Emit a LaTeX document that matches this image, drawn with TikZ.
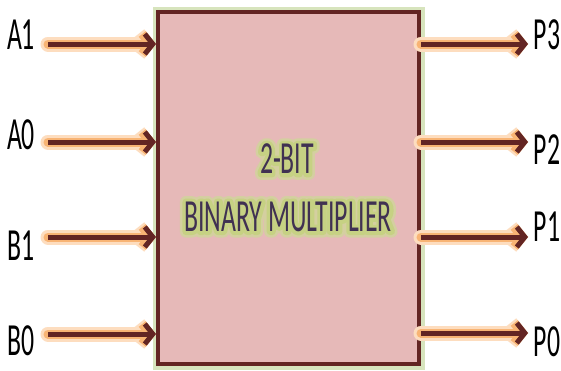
\documentclass[tikz,border=0pt]{standalone}
\usepackage{fontspec}
\usepackage{tikz}
\usetikzlibrary{arrows.meta}
\newfontfamily\diagfont{Carlito}[FakeStretch=0.56]
\definecolor{boxfill}{HTML}{E6B9B8}
\definecolor{wire}{HTML}{632523}
\definecolor{wireglow}{HTML}{F8B474}
\definecolor{wirehaze}{HTML}{FDDDBF}
\definecolor{textcol}{HTML}{403152}
\definecolor{textglow}{HTML}{C6D183}
\definecolor{texthaze}{HTML}{D4CFA0}
\definecolor{boxglow}{HTML}{D7E4BD}
% text with a soft outline behind it
\newcommand{\glowtext}[1]{%
  \rlap{\special{pdf:literal direct 1 Tr 12 w 1 j 1 J}\color{texthaze}#1\special{pdf:literal direct 0 Tr}}%
  \rlap{\special{pdf:literal direct 1 Tr 7 w 1 j 1 J}\color{textglow}#1\special{pdf:literal direct 0 Tr}}%
  \color{textcol}#1}
\tikzset{
  wirearrow/.style={wire, line width=5pt, -{Straight Barb[length=8pt,width=20pt]}},
  wirefade/.style={draw=wirehaze, line width=15pt, line cap=round, -{Straight Barb[length=8pt,width=20pt]}},
  wirehalo/.style={draw=wireglow, line width=9pt, line cap=round, -{Straight Barb[length=8pt,width=20pt]}},
  pinlabel/.style={inner sep=0pt, font=\diagfont\fontsize{46}{50}\selectfont},
}

\begin{document}
\begin{tikzpicture}[x=1pt, y=-1pt]
                \useasboundingbox[fill=white] (0,0) rectangle (561,370);
                % the multiplier block
                \node[draw=wire, fill=boxfill, line width=4pt, minimum width=261pt, minimum height=352pt,
                      preaction={draw=boxglow, line width=11pt}] (mult) at (288.5,188) {};
                \node[pinlabel] (title) at (287,159) {\glowtext{2-BIT}};
                \node[pinlabel] (subtitle) at (288,217) {\glowtext{BINARY MULTIPLIER}};
                % inputs
                \coordinate (a1) at (48,44);
                \coordinate (a0) at (48,142);
                \coordinate (b1) at (48,237);
                \coordinate (b0) at (48,334);
                \node[pinlabel] (la1) at (21,35) {A1};
                \node[pinlabel] (la0) at (21,135) {A0};
                \node[pinlabel] (lb1) at (21,246) {B1};
                \node[pinlabel] (lb0) at (21,341) {B0};
                \foreach \p in {a1,a0,b1,b0}
                {
                    \draw[wirefade] (\p) -- (\p -| mult.west);
                    \draw[wirehalo] (\p) -- (\p -| mult.west);
                    \draw[wirearrow] (\p) -- (\p -| mult.west);
                }
                % outputs
                \coordinate (p3) at (528,44);
                \coordinate (p2) at (528,142);
                \coordinate (p1) at (528,237);
                \coordinate (p0) at (528,333);
                \node[pinlabel] (lp3) at (547,35) {P3};
                \node[pinlabel] (lp2) at (547,150) {P2};
                \node[pinlabel] (lp1) at (547,227) {P1};
                \node[pinlabel] (lp0) at (547,342) {P0};
                \foreach \p in {p3,p2,p1,p0}
                {
                    \draw[wirefade] (\p -| mult.east) -- (\p);
                    \draw[wirehalo] (\p -| mult.east) -- (\p);
                    \draw[wirearrow] (\p -| mult.east) -- (\p);
                }
            \end{tikzpicture}
\end{document}
